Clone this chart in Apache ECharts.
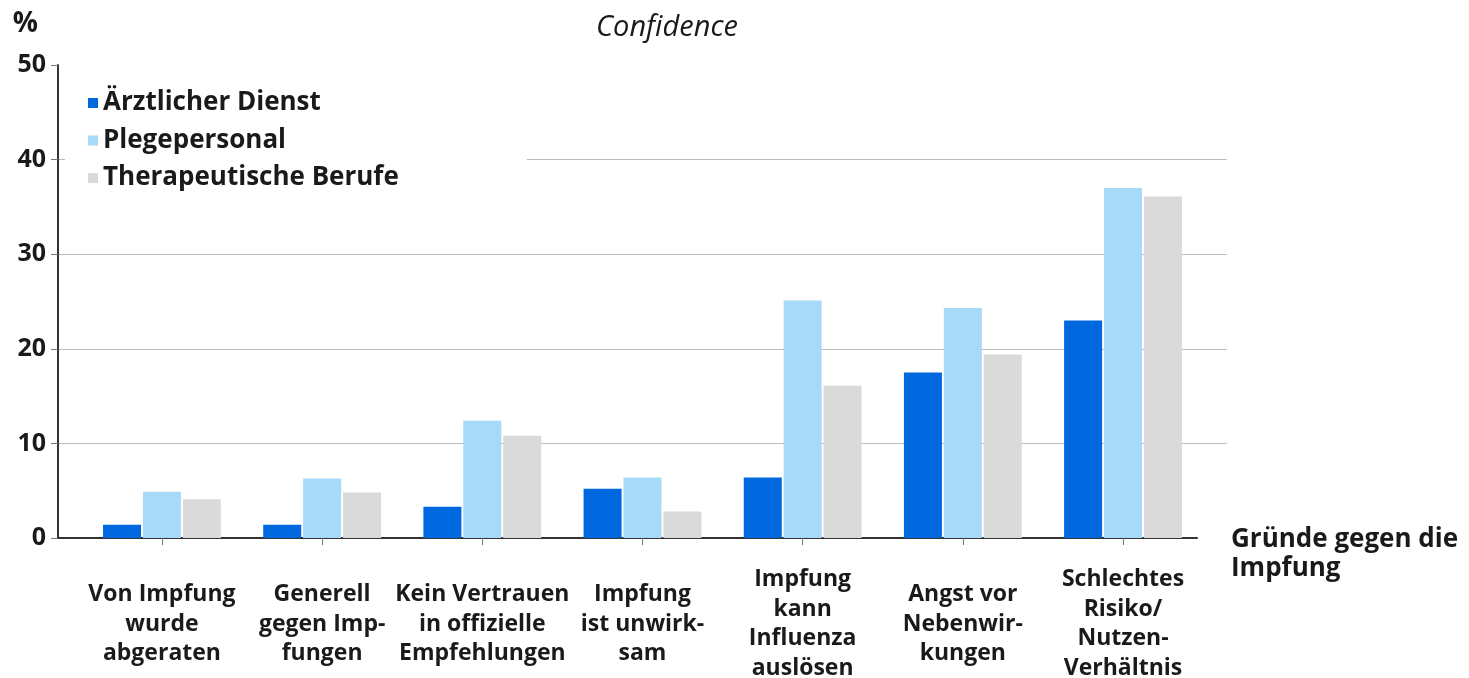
<!DOCTYPE html>
<html>
<head>
<meta charset="utf-8">
<script src="https://cdn.jsdelivr.net/npm/echarts@6/dist/echarts.min.js"></script>
<style>html,body{margin:0;padding:0;background:#fff}#c{width:1469px;height:678px}</style>
</head>
<body>
<div id="c"></div>
<script>
const categories = [
  'Von Impfung\nwurde\nabgeraten',
  'Generell\ngegen Imp-\nfungen',
  'Kein Vertrauen\nin offizielle\nEmpfehlungen',
  'Impfung\nist unwirk-\nsam',
  'Impfung\nkann\nInfluenza\nauslösen',
  'Angst vor\nNebenwir-\nkungen',
  'Schlechtes\nRisiko/\nNutzen-\nVerhältnis'
];
const seriesNames = ['Ärztlicher Dienst', 'Plegepersonal', 'Therapeutische Berufe'];
const aerztlicherDienst = [1.4, 1.4, 3.3, 5.2, 6.4, 17.5, 23.0];
const plegepersonal = [4.9, 6.3, 12.4, 6.4, 25.1, 24.3, 37.0];
const therapeutischeBerufe = [4.1, 4.8, 10.8, 2.8, 16.1, 19.4, 36.1];
const yTicks = [0, 10, 20, 30, 40, 50];
const title = 'Confidence';
const xNameLines = ['Gründe gegen die', 'Impfung'];
const yName = '%';

const colors = ['#0068de', '#a7d9f8', '#dadada'];
const font = 'Open Sans';
const txt = '#1a1a1a';
const idx = categories.map((c, i) => i);
const toPairs = arr => arr.map((v, i) => [i, v]);
const nameFont = { fontFamily: font, fontWeight: 'bold', fontSize: 26, color: txt };

const chart = echarts.init(document.getElementById('c'));
chart.setOption({
  animation: false,
  backgroundColor: '#fff',
  textStyle: { fontFamily: font },
  title: {
    text: title, left: 662, top: 8, textAlign: 'center',
    textStyle: { fontFamily: font, fontStyle: 'italic', fontWeight: 'normal', fontSize: 29, color: txt }
  },
  grid: [
    { left: 58, top: 65, right: 1469 - 1227, bottom: 140, outerBoundsMode: 'none', containLabel: false },
    { left: 58, top: 65, right: 1469 - 1197, bottom: 140, outerBoundsMode: 'none', containLabel: false }
  ],
  legend: {
    orient: 'vertical', left: 65, top: 76, padding: [12, 128, 16, 23],
    backgroundColor: '#fff', icon: 'rect', itemWidth: 10, itemHeight: 10, itemGap: 7.5,
    textStyle: { fontFamily: font, fontWeight: 'bold', fontSize: 26, color: txt, lineHeight: 30 },
    data: seriesNames, z: 10
  },
  xAxis: [
    { gridIndex: 0, type: 'value', min: 0, max: 1, show: false },
    {
      gridIndex: 1, type: 'value', min: -0.649, max: 6.462,
      name: '{a|' + xNameLines[0] + '}\n{b|' + xNameLines[1] + '}',
      nameLocation: 'end', nameGap: 34,
      nameTextStyle: Object.assign({}, nameFont, {
        align: 'left', verticalAlign: 'top',
        rich: { a: Object.assign({}, nameFont, { lineHeight: 4 }), b: Object.assign({}, nameFont, { lineHeight: 54 }) }
      }),
      axisLine: { show: true, onZero: false, lineStyle: { color: '#333', width: 2 } },
      axisTick: { show: true, customValues: idx, length: 7, inside: false, lineStyle: { color: '#777' } },
      axisLabel: {
        customValues: idx, formatter: v => categories[Math.round(v)],
        fontFamily: font, fontWeight: 'bold', fontSize: 23, color: txt, lineHeight: 29.5,
        verticalAlign: 'middle', align: 'center', margin: 86
      },
      splitLine: { show: false }
    }
  ],
  yAxis: [
    {
      gridIndex: 0, type: 'value', min: 0, max: 50, interval: 10,
      axisLine: { show: false }, axisTick: { show: false }, axisLabel: { show: false },
      splitLine: { show: true, showMinLine: false, showMaxLine: false, lineStyle: { color: '#bdbdbd', width: 1.2 } }
    },
    {
      gridIndex: 1, type: 'value', min: 0, max: 50, interval: 10,
      name: yName, nameLocation: 'end', nameGap: 27,
      nameTextStyle: { fontFamily: font, fontWeight: 'bold', fontSize: 28, color: txt, align: 'right', padding: [0, 20, 0, 0] },
      axisLine: { show: true, onZero: false, lineStyle: { color: '#333', width: 2 } },
      axisTick: { show: true, length: 7, lineStyle: { color: '#777' } },
      axisLabel: {
        customValues: yTicks,
        fontFamily: font, fontWeight: 'bold', fontSize: 25, color: txt, margin: 12,
        padding: [6, 0, 0, 0]
      },
      splitLine: { show: false }
    }
  ],
  series: [aerztlicherDienst, plegepersonal, therapeutischeBerufe].map((d, i) => ({
    name: seriesNames[i], type: 'bar', xAxisIndex: 1, yAxisIndex: 1,
    data: toPairs(d), barWidth: 38, barGap: '5%',
    itemStyle: { color: colors[i] }
  }))
});
</script>
</body>
</html>
